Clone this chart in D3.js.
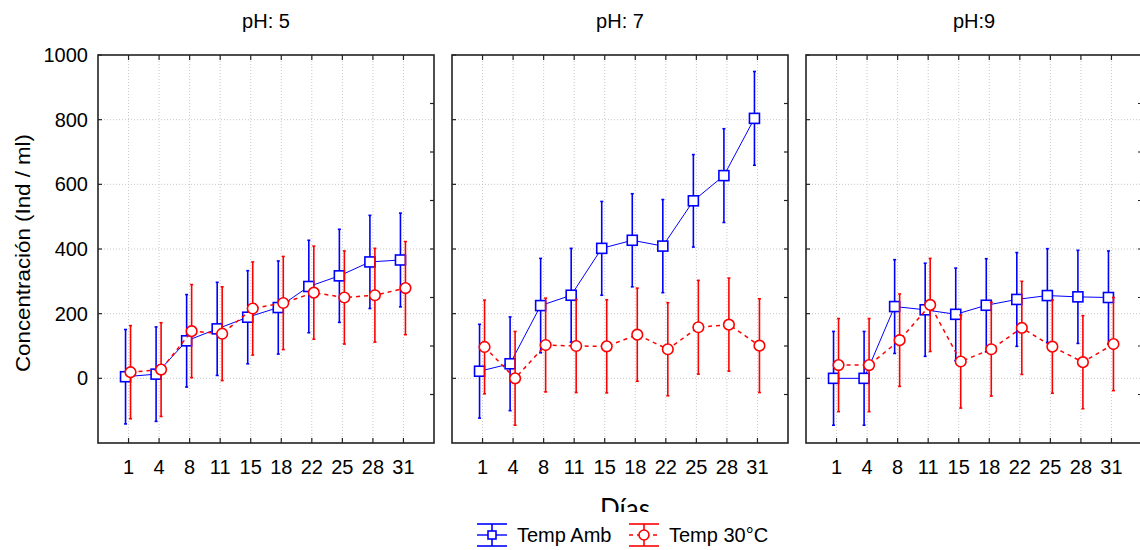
<!DOCTYPE html>
<html>
<head>
<meta charset="utf-8">
<script src="https://cdn.jsdelivr.net/npm/d3@7"></script>
<style>
  body { margin: 0; background: #fff; }
  svg text { font-family: "Liberation Sans", Arial, sans-serif; fill: #000; }
</style>
</head>
<body>
<div id="chart"></div>
<script>
const days = [1, 4, 8, 11, 15, 18, 22, 25, 28, 31];
const panelTitles = ['pH: 5', 'pH: 7', 'pH:9'];
const yTicks = [0, 200, 400, 600, 800, 1000];
const rightTicks = [-50, 100, 250, 400, 550, 700, 850];

// Temp Amb
const ambPH5 = [5, 13, 116, 153, 189, 219, 284, 317, 360, 366];
const ambErrPH5 = [146, 146, 143, 144, 144, 144, 143, 144, 144, 145];
const ambPH7 = [22, 45, 225, 257, 402, 427, 409, 549, 627, 804];
const ambErrPH7 = [145, 145, 146, 145, 145, 144, 144, 143, 145, 145];
const ambPH9 = [0, 0, 222, 212, 198, 226, 244, 256, 252, 250];
const ambErrPH9 = [145, 145, 145, 144, 143, 144, 145, 145, 144, 144];

// Temp 30°C
const hotPH5 = [19, 27, 146, 138, 216, 233, 265, 250, 257, 279];
const hotErrPH5 = [144, 145, 144, 145, 144, 144, 144, 144, 145, 144];
const hotPH7 = [97, 0, 103, 100, 99, 135, 90, 158, 166, 101];
const hotErrPH7 = [145, 145, 145, 144, 144, 144, 144, 145, 144, 145];
const hotPH9 = [41, 41, 118, 227, 52, 90, 156, 98, 50, 106];
const hotErrPH9 = [144, 144, 143, 144, 144, 145, 144, 144, 144, 144];

const panels = [
  { title: panelTitles[0], amb: ambPH5, ambErr: ambErrPH5, hot: hotPH5, hotErr: hotErrPH5 },
  { title: panelTitles[1], amb: ambPH7, ambErr: ambErrPH7, hot: hotPH7, hotErr: hotErrPH7 },
  { title: panelTitles[2], amb: ambPH9, ambErr: ambErrPH9, hot: hotPH9, hotErr: hotErrPH9 }
];

const W = 1140, H = 550;
const plotTop = 55, plotBottom = 443;
const panelW = 336, gap = 18, left0 = 98;
const BLUE = '#0000ff', RED = '#ff0000';

const svg = d3.select('#chart').append('svg')
  .attr('width', W)
  .attr('height', H);

const y = d3.scaleLinear().domain([-200, 1000]).range([plotBottom, plotTop]);

const series = [
  { key: 'amb', color: BLUE, shift: -3, dash: null, marker: 'square' },
  { key: 'hot', color: RED, shift: 2, dash: '4,4', marker: 'circle' }
];

panels.forEach((p, pi) => {
  const x0 = left0 + pi * (panelW + gap);
  const x = d3.scalePoint().domain(days).range([x0, x0 + panelW]).padding(1);
  const g = svg.append('g');

  // grid
  g.selectAll('.vgrid').data(days).join('line')
    .attr('x1', d => x(d)).attr('x2', d => x(d))
    .attr('y1', plotTop).attr('y2', plotBottom)
    .attr('stroke', '#c8c8c8').attr('stroke-dasharray', '1,2').attr('stroke-width', 1);
  g.selectAll('.hgrid').data(yTicks.filter(t => t < 1000)).join('line')
    .attr('x1', x0).attr('x2', x0 + panelW)
    .attr('y1', d => y(d)).attr('y2', d => y(d))
    .attr('stroke', '#c8c8c8').attr('stroke-dasharray', '1,2').attr('stroke-width', 1);

  // frame
  g.append('rect')
    .attr('x', x0).attr('y', plotTop)
    .attr('width', panelW).attr('height', plotBottom - plotTop)
    .attr('fill', 'none').attr('stroke', '#222').attr('stroke-width', 1.6);

  // ticks
  days.forEach(d => {
    g.append('line').attr('x1', x(d)).attr('x2', x(d)).attr('y1', plotBottom).attr('y2', plotBottom - 5)
      .attr('stroke', '#222').attr('stroke-width', 1.2);
    g.append('line').attr('x1', x(d)).attr('x2', x(d)).attr('y1', plotTop).attr('y2', plotTop + 5)
      .attr('stroke', '#222').attr('stroke-width', 1.2);
    g.append('text')
      .attr('x', x(d)).attr('y', 474)
      .attr('text-anchor', 'middle')
      .attr('font-size', 20)
      .text(d);
  });
  yTicks.forEach(t => {
    g.append('line').attr('x1', x0).attr('x2', x0 + 4).attr('y1', y(t)).attr('y2', y(t))
      .attr('stroke', '#222').attr('stroke-width', 1.2);
  });
  rightTicks.forEach(t => {
    g.append('line').attr('x1', x0 + panelW).attr('x2', x0 + panelW - 4).attr('y1', y(t)).attr('y2', y(t))
      .attr('stroke', '#222').attr('stroke-width', 1.2);
  });

  // title
  g.append('text')
    .attr('x', x0 + panelW / 2).attr('y', 28)
    .attr('text-anchor', 'middle')
    .attr('font-size', 20)
    .text(p.title);

  // series
  series.forEach(s => {
    const vals = p[s.key];
    const errs = p[s.key + 'Err'];
    const px = i => x(days[i]) + s.shift;

    vals.forEach((v, i) => {
      g.append('line')
        .attr('x1', px(i)).attr('x2', px(i))
        .attr('y1', y(v - errs[i])).attr('y2', y(v + errs[i]))
        .attr('stroke', s.color).attr('stroke-width', 1.6);
      [v - errs[i], v + errs[i]].forEach(e => {
        g.append('line')
          .attr('x1', px(i) - 1.5).attr('x2', px(i) + 1.5)
          .attr('y1', y(e)).attr('y2', y(e))
          .attr('stroke', s.color).attr('stroke-width', 1.6);
      });
    });

    const line = d3.line().x((d, i) => px(i)).y(d => y(d));
    g.append('path')
      .attr('d', line(vals))
      .attr('fill', 'none')
      .attr('stroke', s.color)
      .attr('stroke-width', s.dash ? 1.5 : 1)
      .attr('stroke-dasharray', s.dash);

    vals.forEach((v, i) => {
      if (s.marker === 'square') {
        g.append('rect')
          .attr('x', px(i) - 5).attr('y', y(v) - 5)
          .attr('width', 10).attr('height', 10)
          .attr('fill', '#fff').attr('stroke', s.color).attr('stroke-width', 1.6);
      } else {
        g.append('circle')
          .attr('cx', px(i)).attr('cy', y(v)).attr('r', 5.3)
          .attr('fill', '#fff').attr('stroke', s.color).attr('stroke-width', 1.6);
      }
    });
  });
});

// y axis labels (first panel)
yTicks.forEach(t => {
  svg.append('text')
    .attr('x', 88).attr('y', y(t))
    .attr('dy', '0.35em')
    .attr('text-anchor', 'end')
    .attr('font-size', 20)
    .text(t);
});

svg.append('text')
  .attr('transform', 'translate(30,253) rotate(-90)')
  .attr('text-anchor', 'middle')
  .attr('font-size', 20)
  .attr('textLength', 238)
  .attr('lengthAdjust', 'spacingAndGlyphs')
  .text('Concentración (Ind / ml)');

// x axis title, clipped at the bottom like the original
svg.append('clipPath').attr('id', 'clipDias')
  .append('rect').attr('x', 0).attr('y', 480).attr('width', W).attr('height', 32);
svg.append('text')
  .attr('x', 625).attr('y', 518)
  .attr('text-anchor', 'middle')
  .attr('font-size', 26)
  .style('font-family', 'Lato, "Open Sans", sans-serif')
  .attr('clip-path', 'url(#clipDias)')
  .text('Días');

// legend
const legend = [
  { label: 'Temp Amb', s: series[0], x: 477 },
  { label: 'Temp 30°C', s: series[1], x: 629 }
];
legend.forEach(l => {
  const lg = svg.append('g').attr('transform', `translate(${l.x},535)`);
  [-11, 11].forEach(yy => {
    lg.append('line').attr('x1', 0).attr('x2', 30).attr('y1', yy).attr('y2', yy)
      .attr('stroke', l.s.color).attr('stroke-width', 1.6);
  });
  lg.append('line').attr('x1', 15).attr('x2', 15).attr('y1', -11).attr('y2', 11)
    .attr('stroke', l.s.color).attr('stroke-width', 1.6);
  lg.append('line').attr('x1', 0).attr('x2', 30).attr('y1', 0).attr('y2', 0)
    .attr('stroke', l.s.color).attr('stroke-width', 1.4)
    .attr('stroke-dasharray', l.s.dash);
  if (l.s.marker === 'square') {
    lg.append('rect').attr('x', 11).attr('y', -4).attr('width', 8).attr('height', 8)
      .attr('fill', '#fff').attr('stroke', l.s.color).attr('stroke-width', 1.6);
  } else {
    lg.append('circle').attr('cx', 15).attr('cy', 0).attr('r', 5)
      .attr('fill', '#fff').attr('stroke', l.s.color).attr('stroke-width', 1.6);
  }
  lg.append('text')
    .attr('x', 40).attr('y', 0).attr('dy', '0.35em')
    .attr('font-size', 20)
    .text(l.label);
});
</script>
</body>
</html>
